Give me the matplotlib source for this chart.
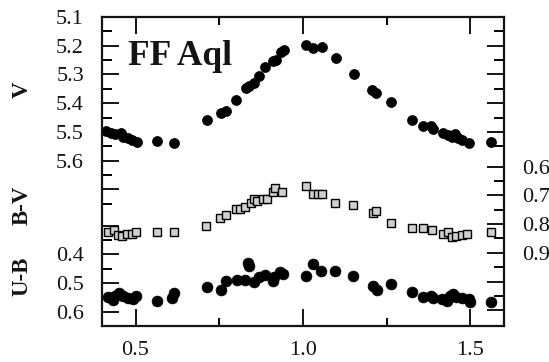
import matplotlib
matplotlib.use("Agg")
import matplotlib.pyplot as plt
import numpy as np

plt.rcParams['font.family'] = ['Liberation Serif', 'DejaVu Serif']

# V light curve (phase, magnitude)
v_phase = [0.411, 0.426, 0.440, 0.458, 0.464, 0.479, 0.491, 0.503, 0.565, 0.616,
           0.714, 0.756, 0.771, 0.801, 0.830, 0.839, 0.854, 0.869, 0.887, 0.911,
           0.920, 0.935, 0.943, 1.009, 1.030, 1.057, 1.098, 1.152, 1.205, 1.217,
           1.262, 1.324, 1.357, 1.381, 1.387, 1.417, 1.432, 1.446, 1.455, 1.464,
           1.476, 1.497, 1.562]
v_mag = [5.496, 5.503, 5.506, 5.503, 5.517, 5.520, 5.527, 5.534, 5.531, 5.538,
         5.459, 5.433, 5.426, 5.390, 5.348, 5.341, 5.329, 5.305, 5.274, 5.253,
         5.249, 5.222, 5.215, 5.197, 5.209, 5.204, 5.242, 5.298, 5.353, 5.366,
         5.395, 5.458, 5.478, 5.478, 5.489, 5.503, 5.510, 5.517, 5.506, 5.520,
         5.527, 5.538, 5.534]

# B-V colour curve
bv_phase = [0.417, 0.435, 0.449, 0.461, 0.476, 0.491, 0.500, 0.565, 0.616, 0.711,
            0.753, 0.771, 0.801, 0.812, 0.827, 0.845, 0.854, 0.863, 0.881, 0.893,
            0.911, 0.917, 0.938, 1.009, 1.030, 1.045, 1.057, 1.095, 1.149, 1.208,
            1.217, 1.262, 1.324, 1.357, 1.384, 1.417, 1.432, 1.446, 1.458, 1.476,
            1.491, 1.562]
bv_col = [0.829, 0.822, 0.839, 0.843, 0.836, 0.833, 0.829, 0.826, 0.826, 0.808,
          0.780, 0.770, 0.749, 0.746, 0.742, 0.728, 0.711, 0.718, 0.711, 0.711,
          0.687, 0.673, 0.690, 0.669, 0.694, 0.694, 0.694, 0.725, 0.735, 0.763,
          0.753, 0.798, 0.812, 0.812, 0.822, 0.833, 0.826, 0.846, 0.843, 0.839,
          0.836, 0.826]

# U-B colour curve
ub_phase = [0.417, 0.432, 0.440, 0.452, 0.464, 0.479, 0.494, 0.500, 0.565, 0.610,
            0.616, 0.714, 0.756, 0.771, 0.804, 0.827, 0.836, 0.839, 0.854, 0.869,
            0.887, 0.911, 0.914, 0.932, 0.940, 1.009, 1.030, 1.054, 1.095, 1.149,
            1.208, 1.220, 1.262, 1.324, 1.357, 1.381, 1.387, 1.414, 1.429, 1.438,
            1.449, 1.458, 1.476, 1.497, 1.500, 1.562]
ub_col = [0.550, 0.560, 0.546, 0.536, 0.546, 0.553, 0.557, 0.546, 0.564, 0.553,
          0.536, 0.515, 0.525, 0.494, 0.491, 0.491, 0.432, 0.442, 0.498, 0.480,
          0.473, 0.494, 0.480, 0.463, 0.470, 0.477, 0.435, 0.459, 0.459, 0.477,
          0.512, 0.525, 0.505, 0.532, 0.550, 0.546, 0.553, 0.557, 0.564, 0.546,
          0.539, 0.550, 0.553, 0.557, 0.567, 0.567]

# vertical offsets that stack the colour curves under the V curve
bv_offset = 5.021
ub_offset = 5.526

v_labels = [5.1, 5.2, 5.3, 5.4, 5.5, 5.6]
ub_labels = [0.4, 0.5, 0.6]
bv_labels = [0.6, 0.7, 0.8, 0.9]
x_ticks = [0.5, 1.0, 1.5]
x_minor = [0.75, 1.25]

ink = '#141414'

fig = plt.figure(figsize=(5.49, 3.62), dpi=100)
ax = fig.add_axes([0.1858, 0.0994, 0.7322, 0.8536])
ax.set_xlim(0.4, 1.6)
ax.set_ylim(6.173, 5.1)

ax.plot(v_phase, v_mag, 'o', color='black', ms=7.2, mec='black', mew=0.5)
ax.plot(bv_phase, np.array(bv_col) + bv_offset, 's', ms=5.2, mfc='#cfcfcf',
        mec='black', mew=1.0)
ax.plot(ub_phase, np.array(ub_col) + ub_offset, 'o', color='black', ms=7.8,
        mec='black', mew=0.5)

for s in ax.spines.values():
    s.set_linewidth(1.6)
    s.set_color(ink)

# x axis
ax.set_xticks(x_ticks)
ax.set_xticklabels([f'{t:.1f}' for t in x_ticks])
ax.set_xticks(x_minor, minor=True)
ax.tick_params(axis='x', which='major', direction='in', length=12, width=1.4,
               top=True, bottom=True, labelsize=16, colors=ink, pad=11)
ax.tick_params(axis='x', which='minor', direction='in', length=6, width=1.4,
               top=True, bottom=True)

# left axis: V magnitudes and U-B colour
left_major = list(v_labels) + [5.7] + [0.3 + ub_offset] + [u + ub_offset for u in ub_labels]
left_lab = [f'{v:.1f}' for v in v_labels] + ['', ''] + [f'{u:.1f}' for u in ub_labels]
left_minor = [5.15, 5.25, 5.35, 5.45, 5.55, 5.65, 5.75] + \
             [u + ub_offset for u in (0.35, 0.45, 0.55, 0.65)]
ax.set_yticks(left_major)
ax.set_yticklabels(left_lab)
ax.set_yticks(left_minor, minor=True)
ax.tick_params(axis='y', which='major', direction='in', length=12, width=1.4,
               left=True, right=False, labelsize=16, colors=ink, pad=13)
ax.tick_params(axis='y', which='minor', direction='in', length=7, width=1.4,
               left=True, right=False)

# right axis: B-V colour
ax2 = ax.twinx()
ax2.set_ylim(ax.get_ylim())
for s in ax2.spines.values():
    s.set_visible(False)
right_major = [5.1, 5.2, 5.3, 5.4, 5.5] + [b + bv_offset for b in bv_labels + [1.0, 1.1]]
right_lab = [''] * 5 + [f'{b:.1f}' for b in bv_labels] + ['', '']
right_minor = [5.15, 5.25, 5.35, 5.45, 5.55] + \
              [b + bv_offset for b in (0.65, 0.75, 0.85, 0.95, 1.05)]
ax2.set_yticks(right_major)
ax2.set_yticklabels(right_lab)
ax2.set_yticks(right_minor, minor=True)
ax2.tick_params(axis='y', which='major', direction='in', length=12, width=1.4,
                right=True, left=False, labelsize=16, colors=ink, pad=13)
ax2.tick_params(axis='y', which='minor', direction='in', length=7, width=1.4,
                right=True, left=False)

ax.text(0.065, 0.845, 'FF Aql', transform=ax.transAxes, fontsize=25.5,
        fontweight='bold', color=ink, va='baseline', ha='left')

for label, yp in (('V', 90), ('B-V', 205), ('U-B', 276)):
    fig.text(22 / 549, 1 - yp / 362, label, rotation=90, ha='center',
             va='center', fontsize=16.5, fontweight='bold', color=ink)

fig.savefig('out.png', dpi=100)
